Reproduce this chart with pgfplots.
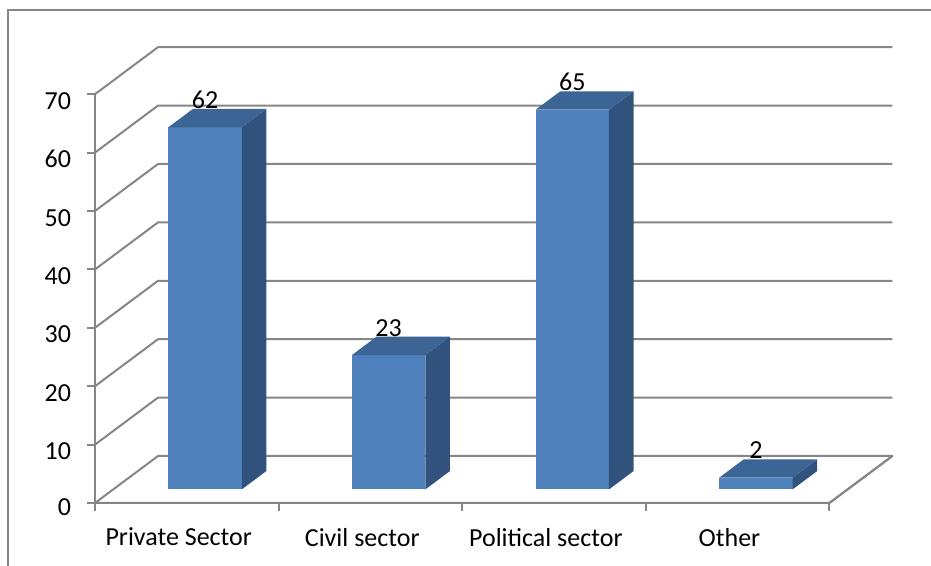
\documentclass[border=0pt]{standalone}
\usepackage{fontspec}
\setmainfont{Carlito}
\usepackage{pgfplots}
\pgfplotsset{compat=1.18}
\definecolor{gridgray}{HTML}{868686}
\definecolor{barfront}{HTML}{4F81BD}
\definecolor{bartop}{HTML}{3C6494}
\definecolor{barside}{HTML}{30527C}
% #1 = left x, #2 = right x, #3 = value
\newcommand{\tdbar}[3]{%
  \addplot3[fill=barfront,draw=none] coordinates {(#1,0.29,0) (#2,0.29,0) (#2,0.29,#3) (#1,0.29,#3)} --cycle;
  \addplot3[fill=barside,draw=none] coordinates {(#2,0.29,0) (#2,0.68,0) (#2,0.68,#3) (#2,0.29,#3)} --cycle;
  \addplot3[fill=bartop,draw=none] coordinates {(#1,0.29,#3) (#2,0.29,#3) (#2,0.68,#3) (#1,0.68,#3)} --cycle;
}
\begin{document}
\begin{tikzpicture}
\path[use as bounding box] (0,0) rectangle (465.5pt,283pt);
\draw[gridgray, line width=0.75pt] (4pt,-2pt) -- (4pt,278pt) -- (470pt,278pt);
\begin{axis}[
  at={(47.5pt,31.5pt)}, anchor=origin,
  x={(91.8pt,0pt)}, y={(31.5pt,23.5pt)}, z={(0pt,2.92pt)},
  xmin=0, xmax=4, ymin=0, ymax=1, zmin=0, zmax=70,
  clip=false,
  axis lines=left,
  axis line style={-, draw=gridgray, line width=1pt},
  major tick length=0pt,
  ytick=\empty,
  xtick={0.5,1.5,2.5,3.5},
  xticklabels={Private Sector, Civil sector, Political sector, Other},
  ztick={0,10,...,70},
  tick label style={font=\fontsize{13}{15}\selectfont},
  xticklabel style={yshift=-9pt},
  zticklabel style={xshift=-8.5pt},
  /pgf/number format/assume math mode=true,
]
% walls and gridlines
\pgfplotsinvokeforeach{10,20,...,70}{
  \addplot3[gridgray, line width=1pt, line join=round] coordinates {(0,0,#1) (0,1,#1) (4,1,#1)};
}
\addplot3[gridgray, line width=1pt, line join=round] coordinates {(0,0,0) (0,1,0) (4,1,0) (4,0,0) (0,0,0)};
% tick marks
\pgfplotsinvokeforeach{0,1,2,3,4}{
  \addplot3[gridgray, line width=1pt] coordinates {(#1,0,0) (#1,0,-1.45)};
}
\pgfplotsinvokeforeach{0,10,...,70}{
  \addplot3[gridgray, line width=1pt] coordinates {(0,0,#1) (-0.045,0,#1)};
}
\addplot3[gridgray, line width=1pt] coordinates {(0,0,0) (0,0,70)};
% bars
\tdbar{0.3}{0.7}{62}
\tdbar{1.3}{1.7}{23}
\tdbar{2.3}{2.7}{65}
\tdbar{3.3}{3.7}{2}
% data labels
\addplot3[draw=none, mark=none, point meta=z, nodes near coords,
  nodes near coords style={anchor=base, yshift=9.5pt, font=\fontsize{13}{15}\selectfont, /pgf/number format/assume math mode=true}]
  coordinates {(0.5,0.29,62) (1.5,0.29,23) (2.5,0.29,65) (3.5,0.29,2)};
\end{axis}
\end{tikzpicture}
\end{document}
